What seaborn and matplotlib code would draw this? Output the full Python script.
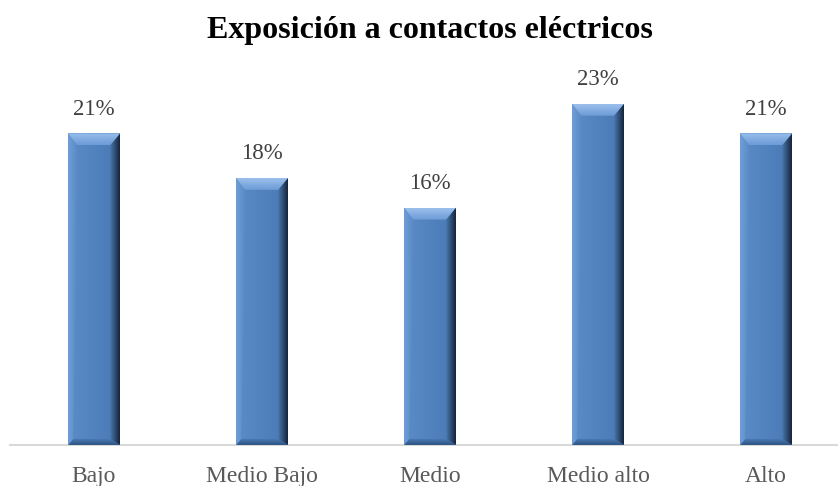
import numpy as np
import pandas as pd
import matplotlib
matplotlib.use("Agg")
import matplotlib.pyplot as plt
from matplotlib.patches import Polygon
import seaborn as sns

categories = ["Bajo", "Medio Bajo", "Medio", "Medio alto", "Alto"]
values = [21, 18, 16, 23, 21]
title = "Exposición a contactos eléctricos"

sns.set_theme(style="white")
plt.rcParams["font.family"] = ["Liberation Serif", "DejaVu Serif"]

W, H = 838, 486
fig = plt.figure(figsize=(W / 100, H / 100), dpi=100)
ax = fig.add_axes([10 / W, 41 / H, 840 / W, 371 / H])

df = pd.DataFrame({"cat": categories, "val": values})
sns.barplot(data=df, x="cat", y="val", color="#4F81BD", width=0.31,
            saturation=1, ax=ax, zorder=2)
ax.set_xlim(-0.5, 4.5)
ax.set_ylim(0, 25)

# Pixel sizes expressed in data units
px_x = 1.0 / 168
px_y = 25.0 / 371


def gradient(ax, x0, x1, y0, y1, c0, c1, horizontal, clip):
    n = 64
    t = np.linspace(0, 1, n)
    c0 = np.array(matplotlib.colors.to_rgb(c0))
    c1 = np.array(matplotlib.colors.to_rgb(c1))
    cols = c0[None, :] * (1 - t[:, None]) + c1[None, :] * t[:, None]
    img = cols[None, :, :] if horizontal else cols[:, None, :]
    im = ax.imshow(img, extent=(x0, x1, y0, y1), origin="lower",
                   aspect="auto", interpolation="bilinear", zorder=3)
    im.set_clip_path(clip)


for patch, v in zip(ax.patches, values):
    x0 = patch.get_x()
    w = patch.get_width()
    x1 = x0 + w
    top = patch.get_height()
    bx = 9 * px_x
    by = 12 * px_y
    sx = 10 * px_x
    bb = 6 * px_y
    patch.set_edgecolor("none")

    # body shading: slight left-to-right darkening
    body = Polygon([(x0, 0), (x1, 0), (x1, top), (x0, top)], closed=True,
                   transform=ax.transData)
    gradient(ax, x0, x1, 0, top, "#5A8CC8", "#4A79B3", True, body)

    # right side bevel going dark
    right = Polygon([(x1 - sx, bb), (x1, 0), (x1, top), (x1 - sx, top - by)],
                    closed=True, transform=ax.transData)
    gradient(ax, x1 - sx, x1, 0, top, "#4A78B0", "#14243A", True, right)

    # bottom bevel
    bottom = Polygon([(x0, 0), (x1, 0), (x1 - sx, bb), (x0 + bx * 0.6, bb)],
                     closed=True, transform=ax.transData)
    gradient(ax, x0, x1, 0, bb, "#2E5482", "#4A78B0", False, bottom)

    # top bevel, lighter
    topb = Polygon([(x0, top), (x1, top), (x1 - sx, top - by), (x0 + bx, top - by)],
                   closed=True, transform=ax.transData)
    gradient(ax, x0, x1, top - by, top, "#6C9BD6", "#9CC0EC", False, topb)

    # left edge highlight
    left = Polygon([(x0, 0), (x0 + bx * 0.6, bb), (x0 + bx, top - by), (x0, top)],
                   closed=True, transform=ax.transData)
    gradient(ax, x0, x0 + bx, 0, top, "#6F9DD6", "#5B8CC8", True, left)

    ax.text(x0 + w / 2, top + 24 * px_y, f"{v}%", ha="center", va="center",
            fontsize=16.5, color="#404040", zorder=4)

sns.despine(ax=ax, left=True, top=True, right=True)
ax.spines["bottom"].set_color("#D9D9D9")
ax.spines["bottom"].set_linewidth(1.5)
ax.set_yticks([])
ax.set_xlabel("")
ax.set_ylabel("")
ax.tick_params(axis="x", length=0, pad=15, labelsize=17, labelcolor="#595959")

fig.text(430 / W, 1 - 38 / H, title, ha="center", va="baseline",
         fontsize=23, fontweight="bold", color="black")

fig.savefig("out.png", dpi=100, facecolor="white")
